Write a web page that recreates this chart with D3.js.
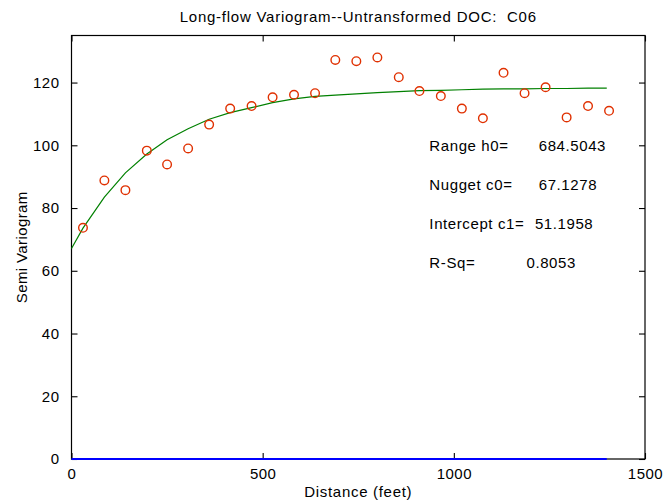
<!DOCTYPE html>
<html><head><meta charset="utf-8">
<script src="https://cdn.jsdelivr.net/npm/d3@7"></script>
<style>
body{margin:0;background:#fff;}
text{font-family:"Liberation Sans",Arial,Helvetica,sans-serif;fill:#000;}
</style></head>
<body>
<svg id="c" width="664" height="502"></svg>
<script>
const title = "Long-flow Variogram--Untransformed DOC:  C06";
const xLabel = "Distance (feet)";
const yLabel = "Semi Variogram";
const xTicks = [0, 500, 1000, 1500];
const yTicks = [0, 20, 40, 60, 80, 100, 120];
const lagDist = [30,86,141,197,250,305,360,415,471,526,582,637,690,745,800,856,910,966,1021,1076,1130,1185,1240,1295,1351,1406];
const semiVar = [73.7,88.8,85.7,98.3,93.9,99.0,106.6,111.7,112.5,115.3,116.1,116.6,127.2,126.8,128.0,121.7,117.3,115.7,111.7,108.6,123.1,116.6,118.5,108.9,112.5,111.0];
const modelDist = [0,30,86,141,197,250,305,360,415,471,526,582,637,690,745,800,856,910,966,1021,1076,1130,1185,1240,1295,1351,1400];
const modelVar = [67.1,73.6,83.5,91.2,97.2,101.8,105.3,108.3,110.4,112.0,113.6,114.8,115.6,116.0,116.4,116.8,117.1,117.4,117.5,117.7,117.9,118.0,118.0,118.1,118.1,118.2,118.2];
const zeroDist = [0, 1400];
const zeroVal = [0, 0];
const statLabels = ["Range h0=", "Nugget c0=", "Intercept c1=", "R-Sq="];
const statValues = ["684.5043", "67.1278", "51.1958", "0.8053"];
const statLabelX = [936, 936, 936, 936];
const statValueX = [1222, 1222, 1212, 1190];
const statY = [100, 87.5, 75, 62.5];

const svg = d3.select("#c");
const L = 71.5, R = 645, T = 35.5, B = 459;
const x = d3.scaleLinear().domain([0, 1500]).range([L, R]);
const y = d3.scaleLinear().domain([0, 135]).range([B, T]);

// box
svg.append("rect").attr("x", L).attr("y", T).attr("width", R - L).attr("height", B - T)
  .attr("fill", "none").attr("stroke", "#000").attr("stroke-width", 1.2);

// axes with inward ticks
const fs = "15px";
const gx = svg.append("g").attr("transform", `translate(0,${B})`)
  .call(d3.axisBottom(x).tickValues(xTicks).tickSizeInner(-6).tickSizeOuter(0).tickPadding(12).tickFormat(d3.format("d")));
const gxt = svg.append("g").attr("transform", `translate(0,${T})`)
  .call(d3.axisTop(x).tickValues(xTicks).tickSizeInner(-6).tickSizeOuter(0).tickFormat(""));
const gy = svg.append("g").attr("transform", `translate(${L},0)`)
  .call(d3.axisLeft(y).tickValues(yTicks).tickSizeInner(-6).tickSizeOuter(0).tickPadding(12).tickFormat(d3.format("d")));
const gyr = svg.append("g").attr("transform", `translate(${R},0)`)
  .call(d3.axisRight(y).tickValues(yTicks).tickSizeInner(-6).tickSizeOuter(0).tickFormat(""));
[gx, gxt, gy, gyr].forEach(g => {
  g.select(".domain").remove();
  g.selectAll(".tick line").attr("stroke", "#000").attr("stroke-width", 1.1);
  g.selectAll("text").attr("font-size", fs).attr("font-family", null).style("letter-spacing", "0.5px");
});
gx.selectAll("text").attr("dy", null).attr("y", 20);

// blue zero line
svg.append("path")
  .attr("d", d3.line().x((d, i) => x(zeroDist[i])).y((d, i) => y(zeroVal[i]))(zeroDist))
  .attr("stroke", "#0000ff").attr("stroke-width", 2).attr("fill", "none");

// model curve
svg.append("path")
  .attr("d", d3.line().x((d, i) => x(modelDist[i])).y((d, i) => y(modelVar[i]))(modelDist))
  .attr("stroke", "#008000").attr("stroke-width", 1.2).attr("fill", "none");

// experimental points
svg.append("g").selectAll("circle").data(lagDist).join("circle")
  .attr("cx", d => x(d)).attr("cy", (d, i) => y(semiVar[i])).attr("r", 4.3)
  .attr("fill", "none").attr("stroke", "#e03000").attr("stroke-width", 1.4);

// stats text
const st = svg.append("g").style("font-size", fs).style("letter-spacing", "0.6px");
st.selectAll("text.l").data(statLabels).join("text").attr("class", "l")
  .attr("x", (d, i) => x(statLabelX[i])).attr("y", (d, i) => y(statY[i])).attr("dy", "0.36em").text(d => d);
st.selectAll("text.v").data(statValues).join("text").attr("class", "v")
  .attr("x", (d, i) => x(statValueX[i])).attr("y", (d, i) => y(statY[i])).attr("dy", "0.36em").text(d => d);

// titles
svg.append("text").attr("x", (L + R) / 2).attr("y", 22.3).attr("text-anchor", "middle")
  .style("font-size", fs).style("letter-spacing", "0.75px").style("white-space", "pre").text(title);
svg.append("text").attr("x", (L + R) / 2).attr("y", 497).attr("text-anchor", "middle")
  .style("font-size", fs).style("letter-spacing", "0.7px").text(xLabel);
svg.append("text").attr("transform", `translate(26.7,${(T + B) / 2}) rotate(-90)`).attr("text-anchor", "middle")
  .style("font-size", fs).style("letter-spacing", "0.4px").text(yLabel);
</script>
</body></html>
